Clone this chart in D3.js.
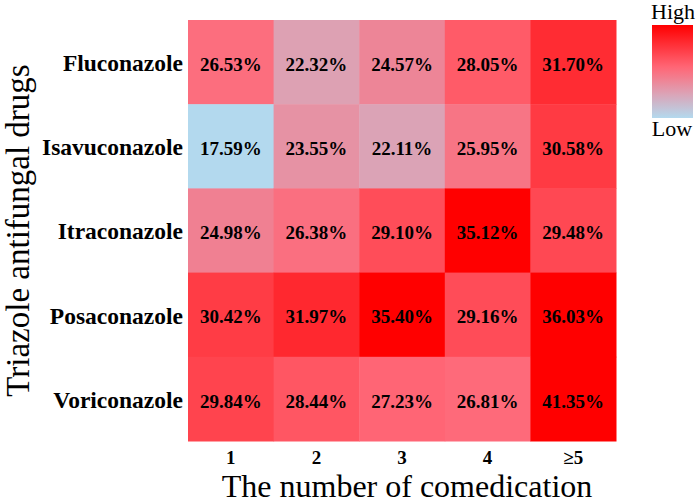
<!DOCTYPE html>
<html>
<head>
<meta charset="utf-8">
<script src="https://cdn.jsdelivr.net/npm/d3@7"></script>
<style>
  body { margin: 0; background: #fff; }
  svg text { font-family: "Liberation Serif", "Times New Roman", serif; }
</style>
</head>
<body>
<svg width="699" height="504"></svg>
<script>
document.addEventListener('DOMContentLoaded', function() {

// data
const drugs = ["Fluconazole", "Isavuconazole", "Itraconazole", "Posaconazole", "Voriconazole"];
const comedication = ["1", "2", "3", "4", "≥5"];
const rates = [
    [26.53, 22.32, 24.57, 28.05, 31.70],
    [17.59, 23.55, 22.11, 25.95, 30.58],
    [24.98, 26.38, 29.10, 35.12, 29.48],
    [30.42, 31.97, 35.40, 29.16, 36.03],
    [29.84, 28.44, 27.23, 26.81, 41.35]
];

const cells = [];
drugs.forEach((drug, i) => {
    comedication.forEach((c, j) => {
        cells.push({ drug: drug, com: c, value: rates[i][j] });
    });
});

const svg = d3.select("svg");
const margin = { left: 188, top: 20, right: 83, bottom: 63 };
const width = +svg.attr("width") - margin.left - margin.right;
const height = +svg.attr("height") - margin.top - margin.bottom;

const x = d3.scaleBand().domain(comedication).range([0, width]);
const y = d3.scaleBand().domain(drugs).range([0, height]);

// low -> high colour ramp (light blue to red), saturates near the top
const color = d3.scaleLinear()
    .domain([17.59, 22.2, 27, 35.12])
    .range(["#b3d9ee", "#dca2b5", "#ff6878", "#ff0000"])
    .clamp(true);

const g = svg.append("g").attr("transform", `translate(${margin.left},${margin.top})`);

g.selectAll("rect.cell")
    .data(cells)
    .enter()
    .append("rect")
    .attr("class", "cell")
    .attr("x", d => x(d.com))
    .attr("y", d => y(d.drug))
    .attr("width", x.bandwidth() + 0.5)
    .attr("height", y.bandwidth() + 0.5)
    .attr("fill", d => color(d.value));

g.selectAll("text.val")
    .data(cells)
    .enter()
    .append("text")
    .attr("class", "val")
    .attr("x", d => x(d.com) + x.bandwidth() / 2)
    .attr("y", d => y(d.drug) + y.bandwidth() / 2 + 2)
    .attr("dy", ".35em")
    .attr("text-anchor", "middle")
    .attr("font-size", "19px")
    .attr("font-weight", "bold")
    .text(d => d.value.toFixed(2) + "%");

// axes
const xAxis = g.append("g")
    .attr("transform", `translate(0,${height})`)
    .call(d3.axisBottom(x).tickSize(0).tickPadding(10));
xAxis.select(".domain").remove();
xAxis.selectAll("text")
    .attr("font-size", "19px")
    .attr("font-weight", "bold")
    .attr("fill", "#000");

const yAxis = g.append("g")
    .call(d3.axisLeft(y).tickSize(0).tickPadding(5));
yAxis.select(".domain").remove();
yAxis.selectAll("text")
    .attr("font-size", "23.5px")
    .attr("font-weight", "bold")
    .attr("fill", "#000")
    .attr("dy", ".38em");

// axis titles
svg.append("text")
    .attr("x", margin.left + width / 2 + 5)
    .attr("y", 497)
    .attr("text-anchor", "middle")
    .attr("font-size", "32px")
    .text("The number of comedication");

svg.append("text")
    .attr("transform", `translate(29,${margin.top + height / 2}) rotate(-90)`)
    .attr("text-anchor", "middle")
    .attr("font-size", "33px")
    .text("Triazole antifungal drugs");

// legend
const defs = svg.append("defs");
const grad = defs.append("linearGradient")
    .attr("id", "legend-grad")
    .attr("x1", 0).attr("y1", 0).attr("x2", 0).attr("y2", 1);
const lo = color.domain()[0], hi = color.domain()[color.domain().length - 1];
d3.range(0, 1.0001, 0.05).forEach(t => {
    grad.append("stop")
        .attr("offset", t)
        .attr("stop-color", color(hi - t * (hi - lo)));
});

const legend = svg.append("g").attr("transform", "translate(652,25)");
legend.append("rect")
    .attr("width", 41)
    .attr("height", 93)
    .attr("fill", "url(#legend-grad)");
legend.append("text")
    .attr("x", 21)
    .attr("y", -6)
    .attr("text-anchor", "middle")
    .attr("font-size", "22px")
    .text("High");
legend.append("text")
    .attr("x", 20)
    .attr("y", 111)
    .attr("text-anchor", "middle")
    .attr("font-size", "22px")
    .text("Low");

});
</script>
</body>
</html>
